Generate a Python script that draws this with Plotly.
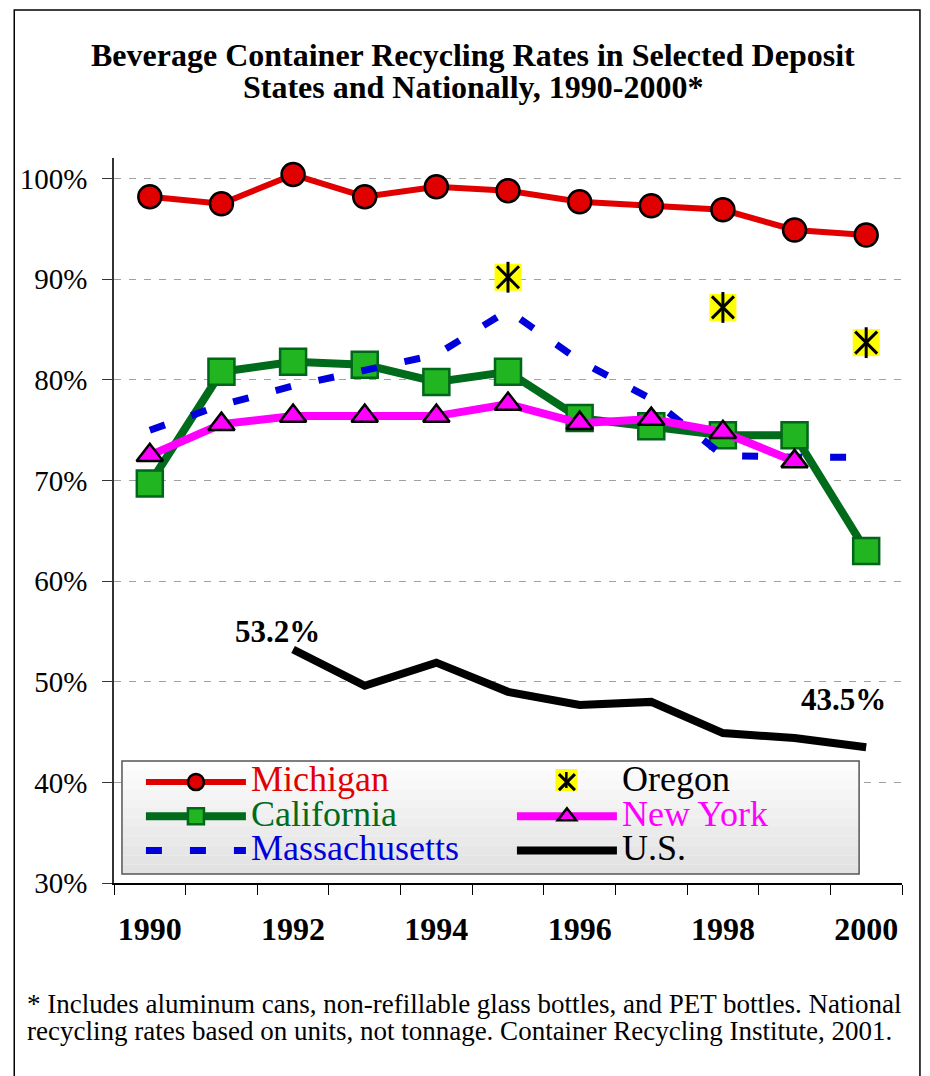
import plotly.graph_objects as go

# ---- data (percent) ----
years = [1990, 1991, 1992, 1993, 1994, 1995, 1996, 1997, 1998, 1999, 2000]
michigan = [98.2, 97.5, 100.4, 98.2, 99.2, 98.8, 97.7, 97.3, 96.9, 94.9, 94.4]
california = [69.7, 80.8, 81.8, 81.5, 79.8, 80.8, 76.2, 75.4, 74.5, 74.5, 63.0]
new_york = [72.5, 75.6, 76.4, 76.4, 76.4, 77.6, 75.7, 76.1, 74.8, 71.9, None]
massachusetts = [75.0, 77.5, 79.4, 81.0, 82.5, 86.9, 81.9, 78.1, 72.5, 72.3, 72.3]
oregon = [None, None, None, None, None, 90.2, None, None, 87.2, None, 83.7]
us = [None, None, 53.2, 49.6, 51.9, 49.0, 47.7, 48.0, 44.9, 44.4, 43.5]

ytick_vals = [30, 40, 50, 60, 70, 80, 90, 100]
xtick_vals = [1990, 1992, 1994, 1996, 1998, 2000]

FONT = "Liberation Serif"

# page body has an 8px margin; figure is sized so the page matches 930x1076
W, H = 922, 1068
PL, PT, PW, PH = 104, 150, 790, 725   # plot area in figure px


def px(xp):   # page x -> paper
    return (xp - 8 - PL) / PW


def py(yp):   # page y -> paper
    return 1 - (yp - 8 - PT) / PH


def lname(text, color):
    return f'<span style="color:{color};font-size:36px">{text}</span>'


fig = go.Figure()

fig.add_trace(go.Scatter(
    x=years, y=california, mode="lines+markers", name=lname("California", "#006b1a"),
    line=dict(color="#006b1a", width=8),
    marker=dict(symbol="square", size=26, color="#22b522", line=dict(color="#00661a", width=2.5)),
    legendrank=3))
fig.add_trace(go.Scatter(
    x=years, y=massachusetts, mode="lines", name=lname("Massachusetts", "#0000dd"),
    line=dict(color="#0000dd", width=7, dash="16px,28px"),
    legendrank=5))
fig.add_trace(go.Scatter(
    x=years, y=new_york, mode="lines+markers", name=lname("New York", "#ff00ff"),
    line=dict(color="#ff00ff", width=8),
    marker=dict(symbol="triangle-up", size=23, color="#ff00ff", line=dict(color="#000000", width=2.5)),
    legendrank=4))
fig.add_trace(go.Scatter(
    x=years, y=michigan, mode="lines+markers", name=lname("Michigan", "#e00000"),
    line=dict(color="#e00000", width=6),
    marker=dict(symbol="circle", size=23, color="#e00000", line=dict(color="#000000", width=2.5)),
    legendrank=1))
fig.add_trace(go.Scatter(
    x=years, y=us, mode="lines", name=lname("U.S.", "#000000"),
    line=dict(color="#000000", width=8),
    legendrank=6))
fig.add_trace(go.Scatter(
    x=years, y=oregon, mode="markers", showlegend=False, name="Oregon",
    marker=dict(symbol="square", size=27, color="#ffff00", line=dict(width=0))))
fig.add_trace(go.Scatter(
    x=years, y=oregon, mode="markers", showlegend=False, name="Oregon",
    marker=dict(symbol="line-ns", size=22, color="#000000", line=dict(color="#000000", width=3))))
fig.add_trace(go.Scatter(
    x=years, y=oregon, mode="markers", name=lname("Oregon", "#000000"),
    marker=dict(symbol="x-thin", size=22, color="#000000", line=dict(color="#000000", width=3)),
    legendrank=2))

shapes = []
# outer frame
shapes.append(dict(type="rect", xref="paper", yref="paper",
                   x0=px(12), x1=px(920), y0=py(1100), y1=py(10),
                   line=dict(color="#000000", width=1.5), fillcolor="rgba(0,0,0,0)", layer="above"))
# legend box (gradient bands)
lx0, lx1 = px(120), px(859)
ly_top, ly_bot = py(761), py(874)
nb = 12
for i in range(nb):
    g = int(253 - (253 - 226) * i / (nb - 1))
    y1 = ly_top - (ly_top - ly_bot) * i / nb
    y0 = ly_top - (ly_top - ly_bot) * (i + 1) / nb
    shapes.append(dict(type="rect", xref="paper", yref="paper", x0=lx0, x1=lx1, y0=y0, y1=y1,
                       line=dict(width=0), fillcolor=f"rgb({g},{g},{g})", layer="above"))
shapes.append(dict(type="rect", xref="paper", yref="paper", x0=lx0, x1=lx1, y0=ly_bot, y1=ly_top,
                   line=dict(color="#555555", width=1.5), fillcolor="rgba(0,0,0,0)", layer="above"))
# Oregon legend symbol backdrop (yellow square + vertical stroke)
ocx, ocy = 565.5, 780
shapes.append(dict(type="rect", xref="paper", yref="paper",
                   x0=px(ocx - 11), x1=px(ocx + 11), y0=py(ocy + 11), y1=py(ocy - 11),
                   line=dict(width=0), fillcolor="#ffff00", layer="above"))
shapes.append(dict(type="line", xref="paper", yref="paper",
                   x0=px(ocx), x1=px(ocx), y0=py(ocy + 8), y1=py(ocy - 8),
                   line=dict(color="#000000", width=2.5), layer="above"))

annotations = [
    dict(text="<b>Beverage Container Recycling Rates in Selected Deposit</b>", xref="paper", yref="paper",
         x=px(472), y=py(55), xanchor="center", yanchor="middle", showarrow=False,
         font=dict(family=FONT, size=32, color="#000000")),
    dict(text="<b>States and Nationally, 1990-2000*</b>", xref="paper", yref="paper",
         x=px(472), y=py(87), xanchor="center", yanchor="middle", showarrow=False,
         font=dict(family=FONT, size=32, color="#000000")),
    dict(text="<b>53.2%</b>", x=years[2], y=us[2], xref="x", yref="y", showarrow=False,
         xshift=-15.5, yshift=18, font=dict(family=FONT, size=31, color="#000000")),
    dict(text="<b>43.5%</b>", x=years[10], y=us[10], xref="x", yref="y", showarrow=False,
         xshift=-23, yshift=48, font=dict(family=FONT, size=31, color="#000000")),
    dict(text="* Includes aluminum cans, non-refillable glass bottles, and PET bottles. National",
         xref="paper", yref="paper", x=px(23), y=py(1004),
         xanchor="left", yanchor="middle", align="left", showarrow=False,
         font=dict(family=FONT, size=27, color="#000000")),
    dict(text="recycling rates based on units, not tonnage. Container Recycling Institute, 2001.",
         xref="paper", yref="paper", x=px(23), y=py(1031),
         xanchor="left", yanchor="middle", align="left", showarrow=False,
         font=dict(family=FONT, size=27, color="#000000")),
]

fig.update_layout(
    width=W, height=H,
    margin=dict(l=PL, r=W - PL - PW, t=PT, b=H - PT - PH),
    paper_bgcolor="#ffffff", plot_bgcolor="#ffffff",
    font=dict(family=FONT, color="#000000"),
    showlegend=True,
    legend=dict(orientation="h", x=px(139), y=py(760), xanchor="left", yanchor="top",
                bgcolor="rgba(0,0,0,0)", borderwidth=0,
                font=dict(family=FONT, size=24, color="#000000"),
                itemwidth=100, entrywidth=256, entrywidthmode="pixels",
                traceorder="normal"),
    shapes=shapes,
    annotations=annotations,
)

fig.update_xaxes(range=[1989.5, 2000.5], tickmode="array", tickvals=xtick_vals,
                 ticktext=[f"<b>{v}</b>" for v in xtick_vals],
                 ticks="", showgrid=False, zeroline=False,
                 showline=True, linecolor="#000000", linewidth=1.5,
                 tickfont=dict(family=FONT, size=32, color="#000000"),
                 ticklabelstandoff=17,
                 minor=dict(tick0=1989.5, dtick=1, ticks="outside", ticklen=10,
                            tickcolor="#000000", tickwidth=1.2, showgrid=False))
fig.update_yaxes(range=[30, 102.05], tickmode="array", tickvals=ytick_vals,
                 ticktext=[f"{v}%" for v in ytick_vals],
                 ticks="outside", ticklen=10, tickcolor="#333333", tickwidth=1.2,
                 showline=True, linecolor="#333333", linewidth=1.5, zeroline=False,
                 showgrid=True, gridcolor="#a0a0a0", gridwidth=1.2, griddash="7px,8px",
                 tickfont=dict(family=FONT, size=29, color="#000000"),
                 ticklabelstandoff=9)

fig.write_html("out.html", config={"displayModeBar": False})
